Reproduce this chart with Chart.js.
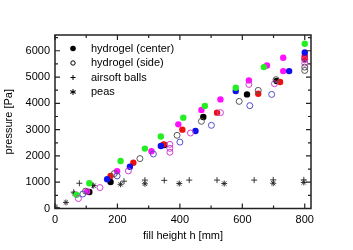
<!DOCTYPE html>
<html>
<head>
<meta charset="utf-8">
<script src="https://cdn.jsdelivr.net/npm/chart.js@4/dist/chart.umd.min.js"></script>
<style>
  body { margin: 0; background: #fff; }
</style>
</head>
<body>
<canvas id="pressureChart" width="353" height="250"></canvas>
<script>
// fill height h [mm], pressure [Pa]
// hydrogel (center) - filled markers, one array per sample colour
const centerBlack = [[110,630],[178,1010],[350,2415],[475,3480],[615,4341],[710,4850],[800,5700]];
const centerRed = [[178,1240],[251,1740],[348,2440],[408,3000],[519,3646],[651,4367],[721,4810],[800,5757]];
const centerBlue = [[167,1113],[240,1590],[339,2378],[450,2948],[579,4466],[750,5226],[800,5936]];
const centerGreen = [[69,520],[110,960],[210,1808],[288,2279],[339,2740],[411,3456],[480,3897],[579,4596],[669,5378],[800,6267]];
const centerMagenta = [[103,645],[199,1417],[309,2176],[395,3202],[469,3750],[530,4151],[621,4873],[679,5442],[731,5735],[731,5226],[800,5810]];

// hydrogel (side) - open markers
const sideGray = [[98,660],[190,1329],[272,1899],[391,2784],[469,3316],[590,4075],[651,4493],[708,4900],[800,5378],[800,5252]];
const sideBlue = [[89,550],[199,1240],[315,2074],[400,2526],[501,3164],[624,3912],[694,4340]];
const sideMagenta = [[75,380],[144,797],[235,1430],[368,2440],[368,2290],[368,2140],[434,2872],[530,3646],[621,4721],[703,4748],[800,5530],[800,5660]];

const airsoft = [[6,40],[60,620],[78,960],[120,880],[221,1040],[288,1080],[350,1070],[430,1080],[519,1080],[638,1080],[699,1090],[797,1090]];
const peas = [[35,230],[63,560],[124,870],[210,920],[288,940],[398,950],[542,950],[699,960],[797,990]];

// labelled (major) ticks and all tick positions (major + minor)
const xTicks = [0, 200, 400, 600, 800];
const yTicks = [0, 1000, 2000, 3000, 4000, 5000, 6000];
const xAllTicks = [0, 100, 200, 300, 400, 500, 600, 700, 800];
const yAllTicks = [0, 500, 1000, 1500, 2000, 2500, 3000, 3500, 4000, 4500, 5000, 5500, 6000, 6500];

const legendItems = ["hydrogel (center)", "hydrogel (side)", "airsoft balls", "peas"];

const toXY = arr => arr.map(p => ({x: p[0], y: p[1]}));
const font = "'Liberation Sans', Arial, sans-serif";

function filled(data, color) {
  return {data: toXY(data), pointStyle: "circle", pointRadius: 3.2, backgroundColor: color, borderColor: color, borderWidth: 0};
}
function open(data, color) {
  return {data: toXY(data), pointStyle: "circle", pointRadius: 3, backgroundColor: "rgba(0,0,0,0)", borderColor: color, borderWidth: 1};
}

// frame, inward ticks on all four sides, and the legend inside the plot
const framePlugin = {
  id: "framePlugin",
  afterDraw(chart) {
    const {ctx, chartArea: a, scales: {x, y}} = chart;
    ctx.save();
    ctx.strokeStyle = "#222";
    ctx.lineWidth = 1.5;
    ctx.strokeRect(a.left, a.top, a.right - a.left, a.bottom - a.top);
    ctx.lineWidth = 1.2;
    ctx.beginPath();
    x.ticks.forEach(t => {
      const px = x.getPixelForValue(t.value);
      const len = xTicks.includes(t.value) ? 5 : 3;
      ctx.moveTo(px, a.bottom); ctx.lineTo(px, a.bottom - len);
      ctx.moveTo(px, a.top); ctx.lineTo(px, a.top + len);
    });
    y.ticks.forEach(t => {
      const py = y.getPixelForValue(t.value);
      const len = yTicks.includes(t.value) ? 5 : 3;
      ctx.moveTo(a.left, py); ctx.lineTo(a.left + len, py);
      ctx.moveTo(a.right, py); ctx.lineTo(a.right - len, py);
    });
    ctx.stroke();

    // legend
    const mx = a.left + 18, tx = a.left + 36;
    ctx.font = "11px " + font;
    ctx.fillStyle = "#000";
    ctx.textBaseline = "middle";
    legendItems.forEach((label, i) => {
      const ly = a.top + 13.5 + i * 14.5;
      ctx.fillText(label, tx, ly);
      ctx.strokeStyle = "#000";
      ctx.lineWidth = 1;
      ctx.beginPath();
      if (i === 0) {
        ctx.arc(mx, ly, 2.8, 0, Math.PI * 2); ctx.fill();
      } else if (i === 1) {
        ctx.arc(mx, ly, 2.2, 0, Math.PI * 2); ctx.stroke();
      } else if (i === 2) {
        ctx.moveTo(mx - 2.5, ly); ctx.lineTo(mx + 2.5, ly);
        ctx.moveTo(mx, ly - 2.5); ctx.lineTo(mx, ly + 2.5); ctx.stroke();
      } else {
        for (let k = 0; k < 3; k++) {
          const ang = k * Math.PI / 3 + Math.PI / 2;
          ctx.moveTo(mx - 3 * Math.cos(ang), ly - 3 * Math.sin(ang));
          ctx.lineTo(mx + 3 * Math.cos(ang), ly + 3 * Math.sin(ang));
        }
        ctx.moveTo(mx - 2.5, ly); ctx.lineTo(mx + 2.5, ly);
        ctx.stroke();
      }
    });
    ctx.restore();
  }
};

new Chart(document.getElementById("pressureChart").getContext("2d"), {
  type: "scatter",
  data: {
    datasets: [
      open(sideGray, "#555555"),
      open(sideBlue, "#5050c8"),
      open(sideMagenta, "#d23cd2"),
      filled(centerGreen, "#22ee22"),
      filled(centerBlue, "#1010ee"),
      filled(centerRed, "#ee1010"),
      filled(centerMagenta, "#ff10ff"),
      filled(centerBlack, "#000000"),
      {data: toXY(airsoft), pointStyle: "cross", pointRadius: 3, borderColor: "#222", borderWidth: 0.9, backgroundColor: "#222"},
      {data: toXY(peas), pointStyle: "star", pointRadius: 3, borderColor: "#222", borderWidth: 0.9, backgroundColor: "#222"}
    ]
  },
  options: {
    responsive: false,
    animation: false,
    devicePixelRatio: 1,
    layout: {padding: {top: 35, right: 42, left: 0, bottom: 0}},
    plugins: {legend: {display: false}, tooltip: {enabled: false}},
    scales: {
      x: {
        type: "linear",
        min: 0,
        max: 820,
        grid: {display: false, drawTicks: false},
        border: {display: false},
        afterBuildTicks: s => { s.ticks = xAllTicks.map(v => ({value: v})); },
        ticks: {
          autoSkip: false,
          maxRotation: 0,
          padding: 5,
          color: "#000",
          font: {family: font, size: 11},
          callback: v => xTicks.includes(v) ? String(v) : ""
        },
        title: {display: true, text: "fill height h [mm]", color: "#000", font: {family: font, size: 11}, padding: {top: 0, bottom: 7}},
        afterFit: s => { s.height = 41.5; }
      },
      y: {
        type: "linear",
        min: 0,
        max: 6600,
        grid: {display: false, drawTicks: false},
        border: {display: false},
        afterBuildTicks: s => { s.ticks = yAllTicks.map(v => ({value: v})); },
        ticks: {
          autoSkip: false,
          padding: 5,
          color: "#000",
          font: {family: font, size: 11},
          callback: v => yTicks.includes(v) ? String(v) : ""
        },
        title: {display: true, text: "pressure [Pa]", color: "#000", font: {family: font, size: 11}, padding: {top: 2, bottom: 0}},
        afterFit: s => { s.width = 55; }
      }
    }
  },
  plugins: [framePlugin]
});
</script>
</body>
</html>
